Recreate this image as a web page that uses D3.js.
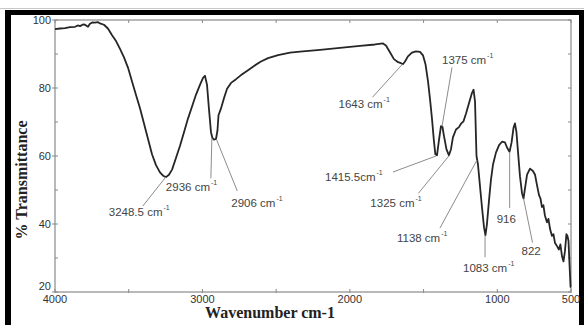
<!DOCTYPE html>
<html><head><meta charset="utf-8">
<script src="https://cdn.jsdelivr.net/npm/d3@7"></script>
<style>
html,body{margin:0;padding:0;background:#fff;}
svg{display:block;}
</style></head><body>
<svg id="chart" width="584" height="325"></svg>
<script>
// FTIR spectrum: wavenumber (cm-1) against % transmittance
const wavenumbers = [4000,3966,3932,3898,3864,3845,3830,3810,3797,3776,3763,3745,3729,3710,3695,3668,3641,3613,3586,3559,3532,3505,3478,3451,3423,3396,3369,3342,3315,3288,3267,3247,3227,3206,3179,3152,3125,3098,3071,3044,3016,2996,2983,2969,2956,2942,2932,2922,2908,2898,2891,2874,2854,2833,2806,2772,2738,2698,2650,2603,2555,2487,2406,2338,2202,2067,1931,1829,1775,1755,1728,1701,1673,1653,1640,1626,1606,1579,1552,1524,1504,1487,1470,1457,1443,1430,1420,1409,1396,1382,1372,1362,1345,1328,1314,1301,1280,1260,1246,1229,1212,1192,1172,1161,1151,1141,1131,1117,1104,1090,1080,1070,1056,1043,1029,1009,988,968,948,934,917,903,890,880,870,859,846,832,822,812,798,778,758,744,731,717,707,697,687,677,663,653,642,629,619,609,595,582,572,561,551,541,531,524,517,510,503,500];
const transmittance = [97.3,97.5,97.6,97.9,98.0,98.4,98.2,98.7,98.6,98.0,98.9,99.3,99.2,99.4,99.0,98.6,97.5,95.5,93.8,91.5,89.0,86.0,82.0,78.0,74.0,69.5,65.0,60.5,57.3,55.2,54.2,53.8,54.5,56.0,59.5,63.0,67.0,71.0,74.5,78.0,81.0,83.0,83.6,81.0,74.0,67.0,65.3,64.8,65.0,67.5,72.0,74.0,77.0,79.8,81.5,82.6,83.8,85.0,86.5,87.8,88.8,89.7,90.4,90.7,91.2,91.8,92.4,92.8,93.1,92.5,90.5,88.5,87.6,87.3,87.0,87.8,89.3,90.4,90.8,90.6,89.6,87.0,82.0,77.0,71.0,64.5,60.5,60.2,64.5,68.8,68.6,66.0,62.0,60.2,62.0,65.5,67.8,68.5,69.5,70.2,72.5,75.5,78.5,79.5,76.0,60.0,57.5,51.0,45.0,39.0,36.7,40.0,47.0,53.0,57.5,61.0,63.2,64.2,64.0,62.5,61.2,64.0,68.3,69.6,67.0,61.0,54.0,49.0,47.5,50.5,54.5,56.3,55.6,54.5,51.5,48.5,47.5,45.0,45.5,42.5,40.5,41.5,38.5,36.5,37.0,34.5,33.5,32.5,34.0,30.5,29.0,32.0,37.0,36.5,35.0,28.0,21.5,21.5];

const xTickValues = [4000, 3000, 2000, 1000, 500];
const yTickValues = [20, 40, 60, 80, 100];

// assigned bands: position (cm-1), text, transmittance at the marked point
const peakPositions = [3248.5, 2936, 2906, 1643, 1375, 1415.5, 1325, 1138, 1083, 916, 822];
const peakTexts = ["3248.5 cm", "2936 cm", "2906 cm", "1643 cm", "1375 cm", "1415.5cm", "1325 cm", "1138 cm", "1083 cm", "916", "822"];
const peakUnits = [true, true, true, true, true, true, true, true, true, false, false];
const peakTransmittance = [53.8, 65.2, 65.0, 87.0, 68.7, 60.0, 60.2, 58.8, 36.7, 61.2, 47.5];

// leader line end and text start, in px relative to the marked point
const leaderLayout = [
  {lx: -23, ly: 29, tx: -57, ty: 39},
  {lx: -1, ly: 40, tx: -46, ty: 53},
  {lx: 21, ly: 52, tx: 15, ty: 68},
  {lx: -30, ly: 33, tx: -64, ty: 44},
  {lx: 10, ly: -59, tx: 0, ty: -62},
  {lx: -43, ly: 16, tx: -111, ty: 25},
  {lx: -31, ly: 38, tx: -79, ty: 52},
  {lx: -37, ly: 68, tx: -80, ty: 82},
  {lx: 0, ly: 22, tx: -22, ty: 37},
  {lx: 0, ly: 56, tx: -13, ty: 71},
  {lx: 9, ly: 44, tx: -2, ty: 56}
];

const svg = d3.select("#chart");
const W = 584, H = 325;
const plot = {left: 55, right: 571, top: 20, bottom: 292};

const x = d3.scaleLinear().domain([4000, 500]).range([plot.left, plot.right]);
const y = d3.scaleLinear().domain([20, 100]).range([plot.bottom, plot.top]);

// figure frame
svg.append("line").attr("x1", 0).attr("x2", W).attr("y1", 8.5).attr("y2", 8.5)
  .attr("stroke", "#c8c8c8").attr("stroke-width", 1);
svg.append("rect").attr("x", 5).attr("y", 10).attr("width", W - 5).attr("height", 5).attr("fill", "#000");
svg.append("rect").attr("x", 5).attr("y", 10).attr("width", 6).attr("height", H - 10).attr("fill", "#000");
svg.append("rect").attr("x", 579).attr("y", 10).attr("width", 5).attr("height", H - 10).attr("fill", "#000");

const axisColor = "#8a8a8a";
const g = svg.append("g");

// axes box
g.append("rect")
  .attr("x", plot.left).attr("y", plot.top)
  .attr("width", plot.right - plot.left).attr("height", plot.bottom - plot.top)
  .attr("fill", "none").attr("stroke", axisColor).attr("stroke-width", 1.2);

// tick marks every 500 cm-1 and every 10 %
const xMinor = d3.range(4000, 499, -500);
const yMinor = d3.range(20, 101, 10);
xMinor.forEach(v => {
  g.append("line").attr("x1", x(v)).attr("x2", x(v)).attr("y1", plot.bottom - 3).attr("y2", plot.bottom + 1)
    .attr("stroke", axisColor).attr("stroke-width", 1);
  g.append("line").attr("x1", x(v)).attr("x2", x(v)).attr("y1", plot.top).attr("y2", plot.top + 3)
    .attr("stroke", axisColor).attr("stroke-width", 1);
});
yMinor.forEach(v => {
  g.append("line").attr("x1", plot.left - (yTickValues.includes(v) ? 3 : 0)).attr("x2", plot.left + 3)
    .attr("y1", y(v)).attr("y2", y(v)).attr("stroke", axisColor).attr("stroke-width", 1);
  g.append("line").attr("x1", plot.right - 3).attr("x2", plot.right)
    .attr("y1", y(v)).attr("y2", y(v)).attr("stroke", axisColor).attr("stroke-width", 1);
});

// tick labels
const tickFont = "'Liberation Sans', Arial, sans-serif";
g.selectAll("text.xt").data(xTickValues).enter().append("text")
  .attr("class", "xt")
  .attr("x", d => x(d)).attr("y", plot.bottom + 11)
  .attr("text-anchor", "middle")
  .attr("font-family", tickFont).attr("font-size", 11).attr("fill", "#333")
  .text(d => d);
g.selectAll("text.yt").data(yTickValues).enter().append("text")
  .attr("class", "yt")
  .attr("x", plot.left - 4).attr("y", d => y(d) + (d === 20 ? -2 : 4))
  .attr("text-anchor", "end")
  .attr("font-family", tickFont).attr("font-size", 11).attr("fill", "#333")
  .text(d => d);

// axis titles
svg.append("text")
  .attr("x", 270).attr("y", 318)
  .attr("text-anchor", "middle")
  .attr("font-family", "'Liberation Serif', 'Times New Roman', serif")
  .attr("font-weight", "bold").attr("font-size", 16).attr("fill", "#222")
  .text("Wavenumber cm-1");
svg.append("text")
  .attr("transform", "translate(27,180) rotate(-90)")
  .attr("text-anchor", "middle")
  .attr("font-family", "'Liberation Serif', 'Times New Roman', serif")
  .attr("font-weight", "bold").attr("font-size", 16).attr("fill", "#222")
  .text("% Transmittance");

// spectrum trace
const spectrum = wavenumbers.map((w, i) => [w, transmittance[i]]);
const line = d3.line().x(d => x(d[0])).y(d => y(d[1]));
g.append("path").datum(spectrum)
  .attr("d", line)
  .attr("fill", "none").attr("stroke", "#262626").attr("stroke-width", 1.8)
  .attr("stroke-linejoin", "round");

// band assignments with leader lines
const ann = g.append("g");
peakPositions.forEach((p, i) => {
  const ax = x(p), ay = y(peakTransmittance[i]);
  const L = leaderLayout[i];
  ann.append("line")
    .attr("x1", ax).attr("y1", ay).attr("x2", ax + L.lx).attr("y2", ay + L.ly)
    .attr("stroke", "#8c8c8c").attr("stroke-width", 1);
  const t = ann.append("text")
    .attr("x", ax + L.tx).attr("y", ay + L.ty)
    .attr("font-family", tickFont).attr("font-size", 11.5).attr("fill", "#444");
  t.append("tspan").text(peakTexts[i]);
  if (peakUnits[i]) {
    t.append("tspan").attr("dy", -6).attr("font-size", 7).attr("dx", 1).text("-1");
  }
});
</script>
</body></html>
